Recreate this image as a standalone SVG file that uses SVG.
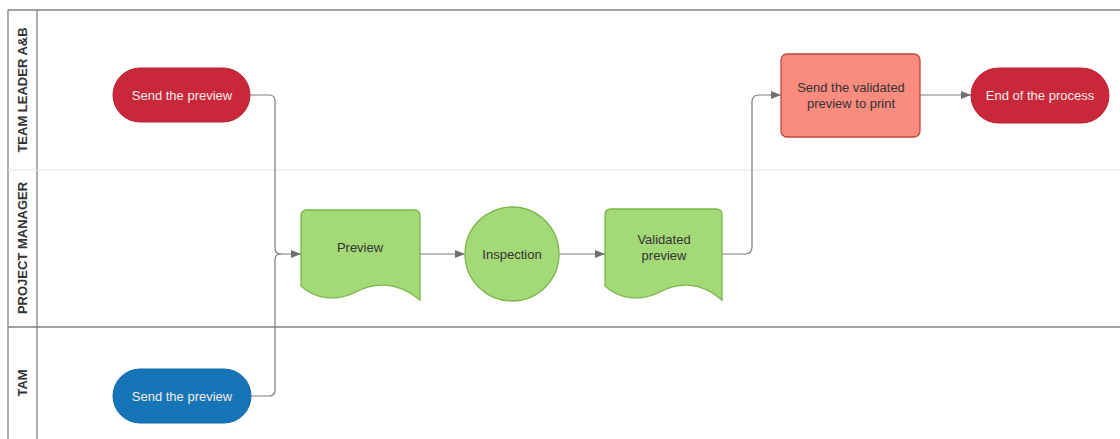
<svg xmlns="http://www.w3.org/2000/svg" width="1120" height="439" viewBox="0 0 1120 439">
  <style>
    .lane-line { stroke: #808080; stroke-width: 1.3; fill: none; }
    .lane-soft { stroke: #e2e2e2; stroke-width: 1; fill: none; }
    .lane-label { font-family: "Liberation Sans", Arial, sans-serif; font-size: 13px; font-weight: bold; fill: #333; text-anchor: middle; }
    .label { font-family: "Liberation Sans", Arial, sans-serif; font-size: 13px; text-anchor: middle; dominant-baseline: central; }
    .light { fill: #f6eaea; }
    .dark { fill: #333; }
    .term-red { fill: #c8283a; stroke: #b92334; stroke-width: 1; }
    .term-blue { fill: #1575b6; stroke: #116aa6; stroke-width: 1; }
    .green { fill: #a3d977; stroke: #7ab648; stroke-width: 1.3; }
    .salmon { fill: #fa8b7f; stroke: #c0473d; stroke-width: 1.3; }
    .conn { stroke: #7a7a7a; stroke-width: 1.2; fill: none; }
  </style>
  <defs>
    <marker id="arrow" viewBox="0 0 10 10" refX="10" refY="5" markerWidth="10" markerHeight="10" markerUnits="userSpaceOnUse" orient="auto">
      <path d="M0,1 L10,5 L0,9 Z" fill="#6e6e6e"/>
    </marker>
  </defs>

  <rect width="1120" height="439" fill="#ffffff"/>

  <!-- swimlanes -->
  <g id="lanes">
    <line class="lane-line" x1="8" y1="10" x2="1120" y2="10"/>
    <line class="lane-line" x1="8" y1="10" x2="8" y2="439"/>
    <line class="lane-line" x1="37" y1="10" x2="37" y2="439"/>
    <line class="lane-soft" x1="8" y1="170" x2="1120" y2="170"/>
    <line class="lane-line" x1="8" y1="327" x2="1120" y2="327"/>
    <text class="lane-label" transform="translate(27,90) rotate(-90)">TEAM LEADER A&amp;B</text>
    <text class="lane-label" transform="translate(27,248) rotate(-90)">PROJECT MANAGER</text>
    <text class="lane-label" transform="translate(27,383) rotate(-90)">TAM</text>
  </g>

  <!-- connectors -->
  <g id="connectors">
    <path class="conn" d="M250,95 L269,95 Q275,95 275,101 L275,248 Q275,254 281,254 L301,254" marker-end="url(#arrow)"/>
    <path class="conn" d="M251,396 L269,396 Q275,396 275,390 L275,260 Q275,254 281,254"/>
    <path class="conn" d="M420,254 L465,254" marker-end="url(#arrow)"/>
    <path class="conn" d="M559,254 L605,254" marker-end="url(#arrow)"/>
    <path class="conn" d="M722,254 L745,254 Q752,254 752,247 L752,102 Q752,95 759,95 L781,95" marker-end="url(#arrow)"/>
    <path class="conn" d="M920,95 L971,95" marker-end="url(#arrow)"/>
  </g>

  <g id="send-preview-tl">
    <rect class="term-red" x="113" y="68" width="137" height="54" rx="27"/>
    <text class="label light" x="182" y="95">Send the preview</text>
  </g>

  <g id="send-preview-tam">
    <rect class="term-blue" x="113" y="369" width="138" height="54" rx="27"/>
    <text class="label light" x="182" y="396">Send the preview</text>
  </g>

  <g id="preview">
    <path class="green" d="M301,216 Q301,210 307,210 L414,210 Q420,210 420,216 L420,300 C396,280 372,283 356,292 C336,302 315,299 301,286 Z"/>
    <text class="label dark" x="360" y="247">Preview</text>
  </g>

  <g id="inspection">
    <circle class="green" cx="512" cy="254" r="47"/>
    <text class="label dark" x="512" y="254">Inspection</text>
  </g>

  <g id="validated-preview">
    <path class="green" d="M605,215 Q605,209 611,209 L716,209 Q722,209 722,215 L722,300 C699,280 676,283 660,292 C640,302 619,299 605,286 Z"/>
    <text class="label dark" x="664" y="239">Validated</text>
    <text class="label dark" x="664" y="255">preview</text>
  </g>

  <g id="send-to-print">
    <rect class="salmon" x="781" y="54" width="139" height="83" rx="6"/>
    <text class="label dark" x="851" y="87">Send the validated</text>
    <text class="label dark" x="851" y="103">preview to print</text>
  </g>

  <g id="end-of-process">
    <rect class="term-red" x="971" y="68" width="138" height="55" rx="27.5"/>
    <text class="label light" x="1040" y="95">End of the process</text>
  </g>
</svg>
